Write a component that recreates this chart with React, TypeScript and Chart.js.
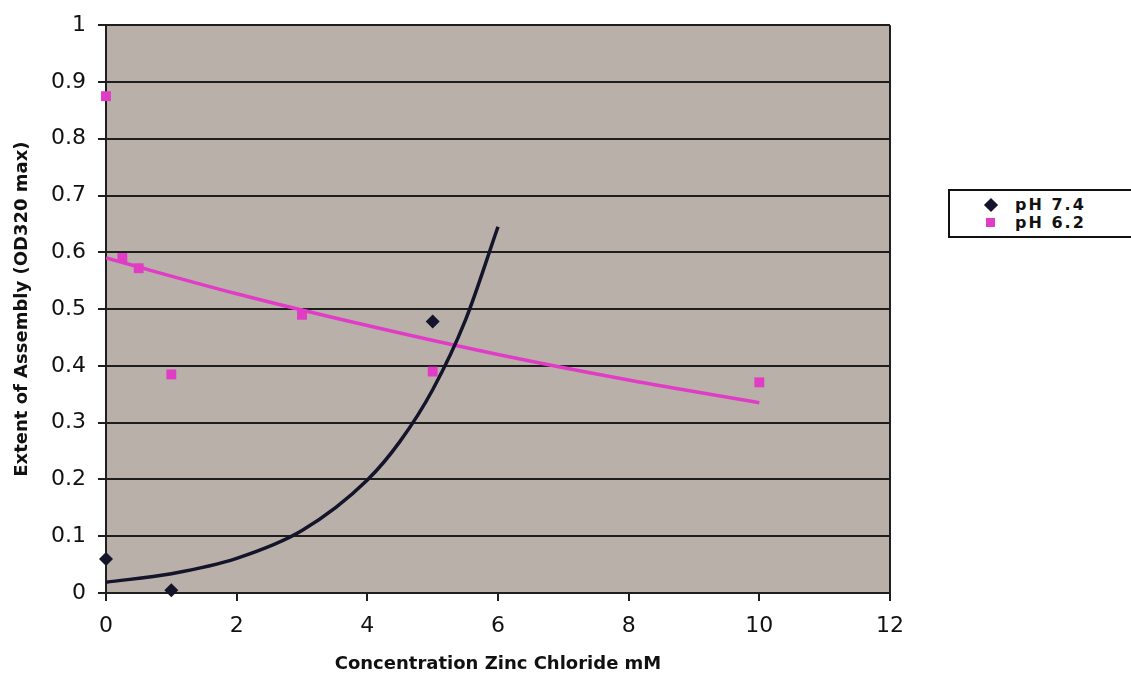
import React, { useEffect, useRef } from "react";
import { Chart, registerables } from "chart.js";

Chart.register(...registerables);

// ---- Data ----
const seriesNames = ["pH 7.4", "pH 6.2"];
const ph74X = [0, 1, 5];
const ph74Y = [0.06, 0.005, 0.478];
const ph62X = [0, 0.25, 0.5, 1, 3, 5, 10];
const ph62Y = [0.875, 0.59, 0.572, 0.385, 0.49, 0.39, 0.371];
// trend lines, points
const trend74X = [0, 1, 2, 3, 4, 4.5, 5, 5.5, 6];
const trend74Y = [0.019, 0.034, 0.061, 0.11, 0.199, 0.267, 0.358, 0.48, 0.645];
const trend62X = [0, 2, 4, 6, 8, 10];
const trend62Y = [0.59, 0.527, 0.471, 0.42, 0.375, 0.335];
const xTickLabels = ["0", "2", "4", "6", "8", "10", "12"];
const yTickLabels = ["0", "0.1", "0.2", "0.3", "0.4", "0.5", "0.6", "0.7", "0.8", "0.9", "1"];
const xTitle = "Concentration Zinc Chloride mM";
const yTitle = "Extent of Assembly (OD320 max)";

const BLACK = "#14142a";
const PINK = "#e03cc6";
const PLOT_BG = "#b9b1a9";
const GRID = "#1e1e1e";

const toPts = (xs: number[], ys: number[]) => xs.map((x, i) => ({ x, y: ys[i] }));

const plotPlugin = {
  id: "plotBg",
  beforeDraw(chart: any) {
    const { ctx, chartArea } = chart;
    const { left, top, right, bottom } = chartArea;
    ctx.save();
    ctx.fillStyle = PLOT_BG;
    ctx.fillRect(left, top, right - left, bottom - top);
    ctx.restore();
  },
  beforeDatasetsDraw(chart: any) {
    const { ctx, chartArea } = chart;
    const { top, right, bottom } = chartArea;
    ctx.save();
    ctx.strokeStyle = GRID;
    ctx.lineWidth = 2;
    ctx.beginPath();
    ctx.moveTo(right, top);
    ctx.lineTo(right, bottom);
    ctx.stroke();
    ctx.restore();
  },
};

export default function App() {
  const ref = useRef<HTMLCanvasElement | null>(null);

  useEffect(() => {
    if (!ref.current) return;
    const chart = new Chart(ref.current, {
      type: "scatter",
      data: {
        datasets: [
          {
            label: seriesNames[0],
            data: toPts(ph74X, ph74Y),
            pointStyle: "rectRot",
            pointRadius: 7,
            backgroundColor: BLACK,
            borderColor: BLACK,
            borderWidth: 0,
            showLine: false,
            clip: false,
          },
          {
            label: seriesNames[1],
            data: toPts(ph62X, ph62Y),
            pointStyle: "rect",
            pointRadius: 7,
            backgroundColor: PINK,
            borderColor: PINK,
            borderWidth: 0,
            showLine: false,
            clip: false,
          },
          {
            label: "trend 7.4",
            data: toPts(trend74X, trend74Y),
            showLine: true,
            pointRadius: 0,
            borderColor: BLACK,
            borderWidth: 3.5,
            cubicInterpolationMode: "monotone",
          },
          {
            label: "trend 6.2",
            data: toPts(trend62X, trend62Y),
            showLine: true,
            pointRadius: 0,
            borderColor: PINK,
            borderWidth: 3.5,
            cubicInterpolationMode: "monotone",
          },
        ],
      } as any,
      options: {
        animation: false,
        responsive: false,
        devicePixelRatio: 1,
        layout: { padding: { left: 0, top: 22, right: 241, bottom: 0 } },
        plugins: {
          legend: { display: false },
          tooltip: { enabled: false },
        },
        scales: {
          x: {
            type: "linear",
            min: 0,
            max: 12,
            afterFit: (s: any) => {
              s.height = 80;
            },
            afterBuildTicks: (s: any) => {
              s.ticks = xTickLabels.map((l) => ({ value: Number(l) }));
            },
            ticks: {
              padding: 12,
              color: "#111",
              font: { family: "DejaVu Sans", size: 22 },
              callback: (v: any) => xTickLabels.find((l) => Number(l) === v) ?? "",
            },
            grid: {
              display: true,
              drawOnChartArea: false,
              drawTicks: true,
              tickLength: 8,
              color: GRID,
              lineWidth: 2,
            },
            border: { display: true, color: GRID, width: 2 },
            title: {
              display: true,
              text: xTitle,
              color: "#111",
              font: { family: "DejaVu Sans", size: 18, weight: "bold", lineHeight: 1 },
              padding: { top: 0, bottom: 0 },
            },
          },
          y: {
            type: "linear",
            min: 0,
            max: 1,
            afterFit: (s: any) => {
              s.width = 106;
            },
            afterBuildTicks: (s: any) => {
              s.ticks = yTickLabels.map((l) => ({ value: Number(l) }));
            },
            ticks: {
              padding: 12,
              color: "#111",
              font: { family: "DejaVu Sans", size: 22 },
              callback: (v: any) => yTickLabels.find((l) => Math.abs(Number(l) - v) < 1e-9) ?? "",
            },
            grid: {
              display: true,
              drawOnChartArea: true,
              drawTicks: true,
              tickLength: 8,
              color: GRID,
              lineWidth: 2,
            },
            border: { display: true, color: GRID, width: 2 },
            title: {
              display: true,
              text: yTitle,
              color: "#111",
              font: { family: "DejaVu Sans", size: 18, weight: "bold", lineHeight: 1 },
              padding: { top: 13, bottom: 0 },
            },
          },
        },
      } as any,
      plugins: [plotPlugin],
    });
    return () => chart.destroy();
  }, []);

  const legendText: React.CSSProperties = {
    position: "absolute",
    left: 1015,
    fontFamily: "DejaVu Sans",
    fontWeight: "bold",
    fontSize: 16,
    lineHeight: "16px",
    letterSpacing: "2px",
    color: "#111",
    whiteSpace: "nowrap",
  };

  return (
    <div
      style={{
        position: "fixed",
        left: 0,
        top: 0,
        width: 1131,
        height: 673,
        overflow: "hidden",
        background: "#fff",
      }}
    >
      <canvas ref={ref} width={1131} height={673} style={{ position: "absolute", left: 0, top: 0 }} />
      <div
        style={{
          position: "absolute",
          left: 948,
          top: 189,
          width: 220,
          height: 45,
          border: "2px solid #111",
          background: "#fff",
        }}
      />
      <div
        style={{
          position: "absolute",
          left: 986,
          top: 200,
          width: 10,
          height: 10,
          background: BLACK,
          transform: "rotate(45deg)",
        }}
      />
      <div style={{ ...legendText, top: 197 }}>{seriesNames[0]}</div>
      <div
        style={{
          position: "absolute",
          left: 986,
          top: 218,
          width: 9,
          height: 9,
          background: PINK,
        }}
      />
      <div style={{ ...legendText, top: 215 }}>{seriesNames[1]}</div>
    </div>
  );
}
